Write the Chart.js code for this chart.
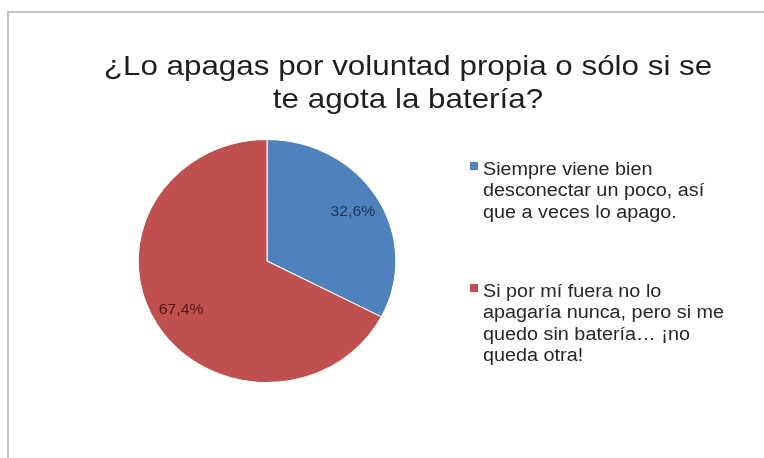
<!DOCTYPE html>
<html>
<head>
<meta charset="utf-8">
<script src="https://cdn.jsdelivr.net/npm/chart.js@4/dist/chart.umd.min.js"></script>
<style>
  html, body { margin: 0; padding: 0; background: #fff; }
  #wrap { position: relative; width: 764px; height: 458px; overflow: hidden; }
  #frame { position: absolute; left: 7px; top: 11px; width: 800px; height: 500px;
           border-left: 2px solid #c4c4c4; border-top: 2px solid #c4c4c4; }
  canvas { position: absolute; left: 0; top: 0; }
</style>
</head>
<body>
<div id="wrap">
  <div id="frame"></div>
  <canvas id="pie" width="764" height="458"></canvas>
</div>
<script>
const titleLines = ['¿Lo apagas por voluntad propia o sólo si se', 'te agota la batería?'];
const categories = [
    ['Siempre viene bien', 'desconectar un poco, así', 'que a veces lo apago.'],
    ['Si por mí fuera no lo', 'apagaría nunca, pero si me', 'quedo sin batería… ¡no', 'queda otra!']
];
const values = [32.6, 67.4];
const valueLabels = ['32,6%', '67,4%'];
const colors = ['#4f81bd', '#c0504d'];
const labelColors = ['#1c3558', '#4e1917'];

const font = size => `${size}px "Liberation Sans", Arial, sans-serif`;

// text in the original is a bit wider than Arial, stretch it horizontally
const wideText = (ctx, text, x, y, sx) => {
    ctx.save();
    ctx.translate(x, y);
    ctx.scale(sx, 1);
    ctx.fillText(text, 0, 0);
    ctx.restore();
};

const stretchPie = {
    id: 'stretchPie',
    beforeDatasetsDraw(chart) {
        const meta = chart.getDatasetMeta(0).data[0];
        const ctx = chart.ctx;
        ctx.save();
        ctx.translate(meta.x, 0);
        ctx.scale(1.06, 1);
        ctx.translate(-meta.x, 0);
    },
    afterDatasetsDraw(chart) {
        chart.ctx.restore();
    }
};

const extras = {
    id: 'extras',
    afterDraw(chart) {
        const ctx = chart.ctx;
        ctx.save();

        // title
        ctx.fillStyle = '#1e1e1e';
        ctx.textAlign = 'center';
        ctx.textBaseline = 'alphabetic';
        ctx.font = font(28);
        titleLines.forEach((t, i) => wideText(ctx, t, 408, 75 + i * 33, 1.12));

        // value labels inside the slices
        ctx.textBaseline = 'middle';
        ctx.font = font(15);
        chart.getDatasetMeta(0).data.forEach((arc, i) => {
            const mid = (arc.startAngle + arc.endAngle) / 2;
            const r = arc.outerRadius * 0.78;
            ctx.fillStyle = labelColors[i];
            wideText(ctx, valueLabels[i], arc.x + Math.cos(mid) * r * 1.06, arc.y + Math.sin(mid) * r, 1.05);
        });

        // legend
        ctx.textAlign = 'left';
        ctx.textBaseline = 'alphabetic';
        ctx.font = font(18);
        let y = 175;
        categories.forEach((lines, i) => {
            ctx.fillStyle = colors[i];
            ctx.fillRect(470, y - 13, 8, 8);
            ctx.fillStyle = '#262626';
            lines.forEach((l, j) => wideText(ctx, l, 483, y + j * 21.3, 1.1));
            y += 122;
        });
        ctx.restore();
    }
};

new Chart(document.getElementById('pie').getContext('2d'), {
    type: 'pie',
    data: {
        labels: categories.map(c => c.join(' ')),
        datasets: [{
            data: values,
            backgroundColor: colors,
            borderColor: '#ffffff',
            borderWidth: 1
        }]
    },
    options: {
        responsive: false,
        animation: false,
        layout: { padding: { left: 145, right: 375, top: 139, bottom: 75 } },
        plugins: {
            legend: { display: false },
            title: { display: false },
            tooltip: { enabled: false }
        }
    },
    plugins: [stretchPie, extras]
});
</script>
</body>
</html>
